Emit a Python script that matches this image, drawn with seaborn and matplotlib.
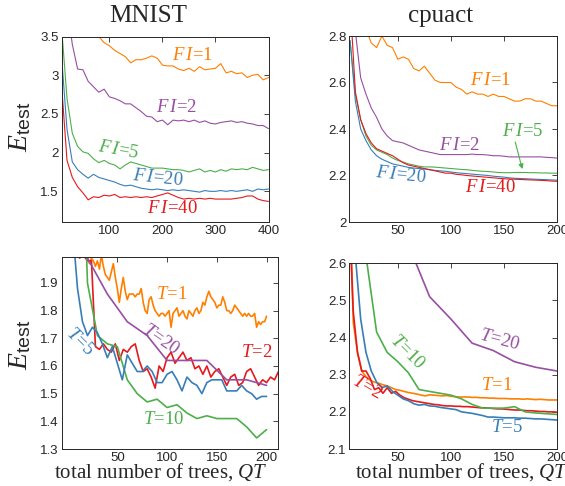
import numpy as np
import pandas as pd
import seaborn as sns
import matplotlib.pyplot as plt
from matplotlib.ticker import FuncFormatter

RED, BLUE, GREEN, PURPLE, ORANGE = "#E41A1C", "#377EB8", "#4DAF4A", "#984EA3", "#FF7F00"

# ---- MNIST, varying FI (top left) ----
mnist_x = np.arange(10, 401, 10)
mnist_fi1 = [6.0, 5.2, 4.6, 4.2, 3.95, 3.75, 3.60, 3.50, 3.42, 3.38, 3.32, 3.28, 3.24, 3.16, 3.20, 3.20,
             3.22, 3.25, 3.22, 3.13, 3.12, 3.12, 3.08, 3.06, 3.09, 3.05, 3.11, 3.07, 3.08, 3.09, 3.15, 3.03,
             3.05, 3.02, 3.03, 2.97, 3.00, 3.01, 2.94, 2.97]
mnist_fi2 = [4.5, 3.9, 3.40, 3.08, 3.07, 2.92, 2.85, 2.78, 2.82, 2.72, 2.70, 2.67, 2.63, 2.63, 2.58, 2.53,
             2.47, 2.46, 2.40, 2.42, 2.36, 2.42, 2.41, 2.42, 2.40, 2.42, 2.39, 2.41, 2.38, 2.37, 2.39, 2.40,
             2.41, 2.39, 2.40, 2.38, 2.37, 2.35, 2.35, 2.31]
mnist_fi5 = [3.6, 2.70, 2.25, 2.08, 2.01, 1.99, 1.92, 1.87, 1.90, 1.86, 1.84, 1.79, 1.84, 1.88, 1.86, 1.84,
             1.82, 1.80, 1.80, 1.80, 1.79, 1.78, 1.78, 1.77, 1.75, 1.77, 1.79, 1.75, 1.77, 1.75, 1.78, 1.76,
             1.79, 1.78, 1.79, 1.78, 1.81, 1.79, 1.77, 1.78]
mnist_fi20 = [3.22, 2.30, 1.88, 1.78, 1.72, 1.67, 1.72, 1.68, 1.66, 1.64, 1.62, 1.59, 1.57, 1.58, 1.56, 1.54,
              1.53, 1.52, 1.53, 1.52, 1.51, 1.52, 1.51, 1.52, 1.51, 1.50, 1.49, 1.51, 1.50, 1.50, 1.51, 1.50,
              1.51, 1.50, 1.51, 1.52, 1.50, 1.53, 1.52, 1.53]
mnist_fi40 = [2.85, 1.90, 1.68, 1.56, 1.48, 1.39, 1.43, 1.42, 1.45, 1.44, 1.46, 1.42, 1.43, 1.42, 1.43, 1.42,
              1.43, 1.42, 1.44, 1.46, 1.48, 1.45, 1.42, 1.40, 1.41, 1.40, 1.41, 1.40, 1.41, 1.40, 1.40, 1.40,
              1.40, 1.41, 1.42, 1.44, 1.44, 1.40, 1.38, 1.37]

# ---- cpuact, varying FI (top right) ----
cpu_x = np.arange(5, 201, 5)
cpu_fi1 = [3.1, 3.0, 2.9, 2.83, 2.77, 2.75, 2.80, 2.76, 2.75, 2.70, 2.71, 2.70, 2.66, 2.65, 2.67, 2.64,
           2.61, 2.60, 2.60, 2.60, 2.58, 2.57, 2.55, 2.56, 2.55, 2.55, 2.54, 2.55, 2.54, 2.54, 2.53, 2.52,
           2.52, 2.53, 2.53, 2.52, 2.52, 2.51, 2.50, 2.50]
cpu_fi2 = [3.2, 2.82, 2.62, 2.55, 2.49, 2.45, 2.40, 2.37, 2.35, 2.345, 2.34, 2.33, 2.32, 2.31, 2.305, 2.30,
           2.295, 2.29, 2.29, 2.29, 2.29, 2.29, 2.29, 2.292, 2.29, 2.29, 2.288, 2.285, 2.285, 2.283, 2.28,
           2.28, 2.28, 2.28, 2.28, 2.28, 2.28, 2.278, 2.277, 2.275]
cpu_fi5 = [2.78, 2.55, 2.44, 2.37, 2.33, 2.31, 2.30, 2.29, 2.275, 2.265, 2.258, 2.25, 2.245, 2.24, 2.237,
           2.237, 2.236, 2.234, 2.232, 2.23, 2.228, 2.226, 2.225, 2.222, 2.22, 2.218, 2.217, 2.215, 2.213,
           2.212, 2.212, 2.213, 2.213, 2.213, 2.212, 2.212, 2.211, 2.211, 2.21, 2.21]
cpu_fi20 = [2.78, 2.52, 2.40, 2.35, 2.31, 2.285, 2.27, 2.26, 2.25, 2.245, 2.24, 2.235, 2.232, 2.23, 2.228,
            2.225, 2.222, 2.22, 2.218, 2.215, 2.212, 2.21, 2.208, 2.206, 2.204, 2.202, 2.2, 2.197, 2.195,
            2.193, 2.19, 2.188, 2.187, 2.186, 2.185, 2.184, 2.183, 2.182, 2.181, 2.18]
cpu_fi40 = [2.95, 2.56, 2.44, 2.38, 2.34, 2.315, 2.305, 2.295, 2.285, 2.27, 2.255, 2.245, 2.24, 2.235, 2.23,
            2.225, 2.22, 2.215, 2.21, 2.21, 2.205, 2.203, 2.20, 2.198, 2.196, 2.194, 2.192, 2.19, 2.188,
            2.186, 2.185, 2.184, 2.183, 2.182, 2.181, 2.18, 2.179, 2.178, 2.176, 2.175]

# ---- MNIST, varying T (bottom left) ----
mt1_x = np.arange(16, 201, 2)
mt1 = [2.05, 2.01, 1.99, 1.97, 1.99, 1.98, 1.96, 1.98, 1.95, 2.00, 1.96, 1.93, 1.92, 1.91, 1.94, 1.97,
       1.92, 1.88, 1.83, 1.88, 1.92, 1.87, 1.84, 1.86, 1.86, 1.86, 1.85, 1.86, 1.86, 1.88, 1.83, 1.80,
       1.79, 1.84, 1.85, 1.82, 1.80, 1.79, 1.78, 1.79, 1.79, 1.78, 1.79, 1.80, 1.74, 1.79, 1.80, 1.81,
       1.78, 1.79, 1.80, 1.78, 1.77, 1.80, 1.79, 1.78, 1.80, 1.81, 1.79, 1.80, 1.83, 1.82, 1.85, 1.87,
       1.85, 1.84, 1.83, 1.81, 1.82, 1.82, 1.85, 1.83, 1.80, 1.80, 1.79, 1.80, 1.82, 1.81, 1.80, 1.79,
       1.78, 1.79, 1.78, 1.79, 1.78, 1.78, 1.79, 1.74, 1.76, 1.75, 1.76, 1.76, 1.78]
mt2_x = np.arange(12, 213, 4)
mt2 = [1.99, 2.00, 1.98, 1.98, 1.67, 1.66, 1.68, 1.66, 1.65, 1.68, 1.62, 1.66, 1.65, 1.67, 1.68, 1.62,
       1.58, 1.59, 1.56, 1.52, 1.60, 1.58, 1.63, 1.65, 1.61, 1.63, 1.65, 1.62, 1.63, 1.59, 1.60, 1.57,
       1.60, 1.56, 1.58, 1.59, 1.56, 1.53, 1.56, 1.57, 1.53, 1.54, 1.58, 1.59, 1.56, 1.53, 1.55, 1.54,
       1.56, 1.55, 1.58]
mt5_x = np.arange(5, 201, 5)
mt5 = [2.1, 1.88, 1.76, 1.71, 1.74, 1.72, 1.68, 1.63, 1.67, 1.61, 1.55, 1.64, 1.61, 1.58, 1.58, 1.60,
       1.58, 1.54, 1.54, 1.57, 1.58, 1.55, 1.51, 1.56, 1.54, 1.53, 1.50, 1.54, 1.55, 1.55, 1.55, 1.51,
       1.51, 1.51, 1.53, 1.51, 1.50, 1.48, 1.49, 1.49]
mt10_x = np.arange(10, 201, 10)
mt10 = [3.0, 1.90, 1.71, 1.68, 1.67, 1.55, 1.50, 1.47, 1.48, 1.45, 1.46, 1.43, 1.41, 1.42, 1.41, 1.41,
        1.41, 1.38, 1.34, 1.37]
mt20_x = np.arange(20, 201, 20)
mt20 = [1.99, 1.86, 1.76, 1.71, 1.62, 1.62, 1.62, 1.55, 1.55, 1.53]

# ---- cpuact, varying T (bottom right) ----
ct1_x = np.arange(4, 201, 4)
ct1 = [2.9, 2.44, 2.36, 2.31, 2.295, 2.285, 2.28, 2.277, 2.273, 2.27, 2.265, 2.26, 2.258, 2.255, 2.252,
       2.25, 2.248, 2.245, 2.243, 2.246, 2.245, 2.244, 2.243, 2.244, 2.242, 2.241, 2.24, 2.24, 2.24,
       2.239, 2.239, 2.238, 2.238, 2.237, 2.237, 2.236, 2.236, 2.236, 2.235, 2.235, 2.235, 2.234, 2.235,
       2.234, 2.233, 2.234, 2.233, 2.232, 2.232, 2.232]
ct2_x = np.arange(4, 201, 4)
ct2 = [2.75, 2.47, 2.36, 2.31, 2.31, 2.29, 2.26, 2.265, 2.25, 2.265, 2.25, 2.255, 2.245, 2.238, 2.234,
       2.23, 2.228, 2.226, 2.224, 2.222, 2.22, 2.219, 2.217, 2.216, 2.216, 2.215, 2.215, 2.214, 2.214,
       2.213, 2.212, 2.211, 2.211, 2.21, 2.209, 2.208, 2.208, 2.207, 2.206, 2.205, 2.205, 2.204, 2.203,
       2.203, 2.202, 2.201, 2.201, 2.2, 2.2, 2.199]
ct5_x = np.arange(5, 201, 5)
ct5 = [3.0, 2.62, 2.45, 2.36, 2.31, 2.28, 2.265, 2.27, 2.255, 2.245, 2.235, 2.23, 2.222, 2.218, 2.22,
       2.216, 2.215, 2.212, 2.21, 2.208, 2.206, 2.2, 2.198, 2.196, 2.193, 2.19, 2.186, 2.186, 2.185,
       2.184, 2.184, 2.184, 2.183, 2.183, 2.182, 2.181, 2.181, 2.18, 2.179, 2.178]
ct10_x = np.arange(10, 201, 10)
ct10 = [3.0, 2.62, 2.415, 2.36, 2.335, 2.305, 2.26, 2.255, 2.25, 2.245, 2.235, 2.22, 2.21, 2.21, 2.21,
        2.214, 2.20, 2.197, 2.195, 2.193]
ct20_x = np.arange(20, 201, 20)
ct20 = [3.3, 2.95, 2.65, 2.51, 2.45, 2.385, 2.365, 2.335, 2.32, 2.31]


def frame(series):
    parts = []
    for name, x, y in series:
        assert len(x) == len(y), name
        parts.append(pd.DataFrame({"x": x, "y": y, "s": name}))
    return pd.concat(parts, ignore_index=True)


sns.set_style("white")
plt.rcParams["font.family"] = ["Liberation Sans", "DejaVu Sans"]
plt.rcParams["mathtext.fontset"] = "custom"
plt.rcParams["mathtext.rm"] = "Liberation Serif"
plt.rcParams["mathtext.it"] = "Liberation Serif:italic"
plt.rcParams["mathtext.sf"] = "Liberation Sans"

W, H = 565, 486
fig = plt.figure(figsize=(W / 100, H / 100), dpi=100)


def make_ax(left, top, right, bottom):
    return fig.add_axes([left / W, 1 - bottom / H, (right - left) / W, (bottom - top) / H])


panels = [
    dict(ax=make_ax(61.7, 36.5, 268.5, 222.3), xlim=(10, 400), ylim=(1.1, 3.5),
         xt=[100, 200, 300, 400], yt=[1.5, 2, 2.5, 3, 3.5], lw=0.8,
         series=[("1", mnist_x, mnist_fi1), ("2", mnist_x, mnist_fi2), ("5", mnist_x, mnist_fi5),
                 ("20", mnist_x, mnist_fi20), ("40", mnist_x, mnist_fi40)],
         labels=[(r"$F\,I$=1", 256, 3.26, 0, ORANGE), (r"$F\,I$=2", 226, 2.58, 0, PURPLE),
                 (r"$F\,I$=5", 117, 2.03, -10, GREEN), (r"$F\,I$=20", 192, 1.67, -6, BLUE),
                 (r"$F\,I$=40", 219, 1.28, 0, RED)]),
    dict(ax=make_ax(349, 36, 557, 222), xlim=(4, 200), ylim=(2, 2.8),
         xt=[50, 100, 150, 200], yt=[2, 2.2, 2.4, 2.6, 2.8], lw=0.8,
         series=[("1", cpu_x, cpu_fi1), ("2", cpu_x, cpu_fi2), ("5", cpu_x, cpu_fi5),
                 ("20", cpu_x, cpu_fi20), ("40", cpu_x, cpu_fi40)],
         labels=[(r"$F\,I$=1", 137, 2.61, 0, ORANGE), (r"$F\,I$=2", 108, 2.33, 0, PURPLE),
                 (r"$F\,I$=5", 168, 2.39, 0, GREEN), (r"$F\,I$=20", 53, 2.20, -6, BLUE),
                 (r"$F\,I$=40", 137, 2.15, 0, RED)]),
    dict(ax=make_ax(61.6, 256.7, 278, 449), xlim=(-6, 211.5), ylim=(1.3, 1.995),
         xt=[50, 100, 150, 200], yt=[1.3, 1.4, 1.5, 1.6, 1.7, 1.8, 1.9], lw=1.2,
         series=[("1", mt1_x, mt1), ("2", mt2_x, mt2), ("5", mt10_x, mt10),
                 ("20", mt5_x, mt5), ("40", mt20_x, mt20)],
         labels=[(r"$T$=1", 105, 1.858, 0, ORANGE), (r"$T$=20", 93, 1.695, -35, PURPLE),
                 (r"$T$=5", 12.5, 1.688, -45, BLUE), (r"$T$=2", 190, 1.648, 0, RED),
                 (r"$T$=10", 96, 1.405, 0, GREEN)]),
    dict(ax=make_ax(349, 263.3, 557, 449), xlim=(4, 200), ylim=(2.1, 2.6),
         xt=[50, 100, 150, 200], yt=[2.1, 2.2, 2.3, 2.4, 2.5, 2.6], lw=1.2,
         series=[("1", ct1_x, ct1), ("2", ct2_x, ct2), ("5", ct10_x, ct10),
                 ("20", ct5_x, ct5), ("40", ct20_x, ct20)],
         labels=[(r"$T$=20", 146, 2.394, -15, PURPLE), (r"$T$=10", 59, 2.361, -45, GREEN),
                 (r"$T$=1", 143, 2.272, 0, ORANGE), (r"$T$=2", 21, 2.267, -30, RED),
                 (r"$T$=5", 153, 2.157, 0, BLUE)]),
]

palettes = [
    {"1": ORANGE, "2": PURPLE, "5": GREEN, "20": BLUE, "40": RED},
    {"1": ORANGE, "2": PURPLE, "5": GREEN, "20": BLUE, "40": RED},
    {"1": ORANGE, "2": RED, "5": GREEN, "20": BLUE, "40": PURPLE},
    {"1": ORANGE, "2": RED, "5": GREEN, "20": BLUE, "40": PURPLE},
]

fmt = FuncFormatter(lambda v, _: f"{v:g}")
for p, pal in zip(panels, palettes):
    ax = p["ax"]
    df = frame(p["series"])
    sns.lineplot(data=df, x="x", y="y", hue="s", palette=pal, legend=False,
                 ax=ax, linewidth=p["lw"], estimator=None)
    ax.set_xlim(*p["xlim"])
    ax.set_ylim(*p["ylim"])
    ax.set_xticks(p["xt"])
    ax.set_yticks(p["yt"])
    ax.xaxis.set_major_formatter(fmt)
    ax.yaxis.set_major_formatter(fmt)
    ax.set_xlabel("")
    ax.set_ylabel("")
    ax.tick_params(direction="in", top=True, right=True, length=3.5, width=0.6,
                   labelsize=9.5, labelcolor="#262626", color="#262626", pad=2)
    for sp in ax.spines.values():
        sp.set_visible(True)
        sp.set_color("#262626")
        sp.set_linewidth(0.7)
    for txt, x, y, rot, c in p["labels"]:
        ax.text(x, y, txt, color=c, fontsize=13.5, family="Liberation Serif",
                ha="center", va="center", rotation=rot)

panels[1]["ax"].annotate("", xy=(168, 2.216), xytext=(160, 2.355),
                         arrowprops=dict(arrowstyle="-|>", color=GREEN, lw=0.8, mutation_scale=7))

fig.text(148 / W, 1 - 22 / H, "MNIST", fontsize=18, family="Liberation Serif", ha="center", va="baseline")
fig.text(441 / W, 1 - 22 / H, "cpuact", fontsize=18, family="Liberation Serif", ha="center", va="baseline")
for yc in (127, 345):
    fig.text(20 / W, 1 - yc / H, r"$E_{\mathsf{test}}$", fontsize=20, rotation=90, ha="center", va="center")
for xc in (161, 462):
    fig.text(xc / W, 1 - 478 / H, r"total number of trees, $QT$", fontsize=15,
             family="Liberation Serif", ha="center", va="baseline")

fig.savefig("out.png", dpi=100)
